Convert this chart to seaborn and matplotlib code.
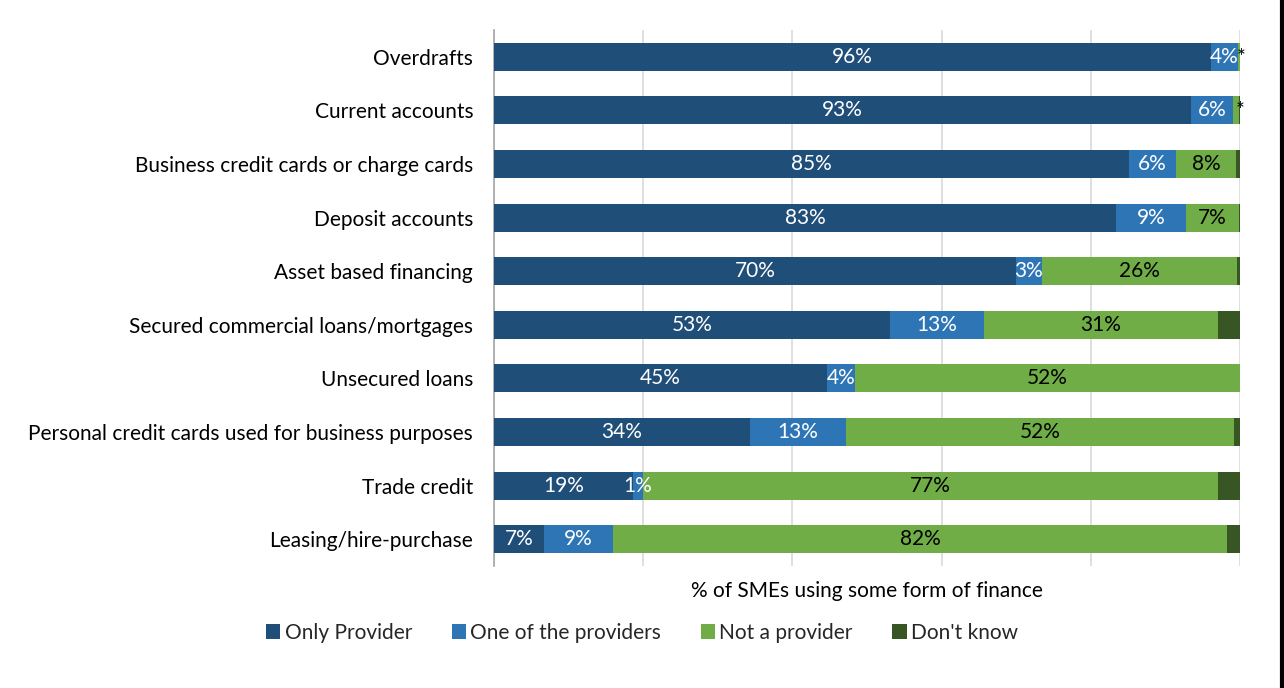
import numpy as np
import pandas as pd
import matplotlib
matplotlib.use("Agg")
import matplotlib.pyplot as plt
from matplotlib.lines import Line2D
from matplotlib.patches import Patch
import seaborn as sns

categories = ["Overdrafts", "Current accounts", "Business credit cards or charge cards",
              "Deposit accounts", "Asset based financing", "Secured commercial loans/mortgages",
              "Unsecured loans", "Personal credit cards used for business purposes",
              "Trade credit", "Leasing/hire-purchase"]
only_provider = [96.1, 93.4, 85.1, 83.4, 70.0, 53.1, 44.6, 34.3, 18.6, 6.7]
one_of_providers = [3.6, 5.7, 6.3, 9.3, 3.4, 12.6, 3.8, 12.9, 1.4, 9.3]
not_a_provider = [0.3, 0.7, 8.1, 7.2, 26.2, 31.3, 51.6, 52.0, 77.0, 82.3]
dont_know = [0.0, 0.2, 0.5, 0.1, 0.4, 3.0, 0.0, 0.8, 3.0, 1.7]

series_names = ["Only Provider", "One of the providers", "Not a provider", "Don't know"]
series = [only_provider, one_of_providers, not_a_provider, dont_know]
colors = ["#1F4E79", "#2E75B6", "#70AD47", "#375623"]
text_colors = ["white", "white", "black", None]

sns.set_theme(style="white")
plt.rcParams["font.family"] = ["Lato", "DejaVu Sans"]

FS = 15

fig = plt.figure(figsize=(12.84, 6.88), dpi=100)
ax = fig.add_axes([494 / 1284, 1 - 566 / 688, (1240 - 494) / 1284, (566 - 30) / 688])

vals = np.array(series)
cums = np.cumsum(vals, axis=0)

# draw stacked bars: largest cumulative first
for i in range(len(series) - 1, -1, -1):
    df = pd.DataFrame({"cat": categories, "val": cums[i]})
    sns.barplot(data=df, y="cat", x="val", orient="y", color=colors[i],
                saturation=1, width=0.52, linewidth=0, ax=ax, zorder=3)

ax.set_xlim(0, 100)
ax.set_ylim(9.5, -0.5)
ax.set_xticks([0, 20, 40, 60, 80, 100])
ax.set_xticklabels([])
ax.tick_params(axis="x", length=0)
ax.tick_params(axis="y", length=0, labelsize=FS, colors="black", pad=15)
ax.grid(axis="x", color="#D9D9D9", linewidth=1.2, zorder=0)
ax.set_axisbelow(True)
for s in ["top", "right", "bottom"]:
    ax.spines[s].set_visible(False)
ax.spines["left"].set_color("#A6A6A6")
ax.spines["left"].set_linewidth(1.2)
ax.set_ylabel("")
ax.set_xlabel("% of SMEs using some form of finance", fontsize=FS, color="black", labelpad=7)

# value labels
for i in range(3):
    for j, v in enumerate(series[i]):
        x = cums[i][j] - v / 2
        if v < 1:
            ax.text(cums[i][j] + 0.15, j + 0.02, "*", ha="center", va="center", fontsize=15,
                    color="black", zorder=5, clip_on=False)
        else:
            ax.text(x, j, f"{v:.0f}%", ha="center", va="center", fontsize=FS,
                    color=text_colors[i], zorder=5)

handles = [Patch(facecolor=c, edgecolor="none") for c in colors]
fig.legend(handles, series_names, loc="center", bbox_to_anchor=(0.5, 1 - 633 / 688),
           ncol=4, frameon=False, fontsize=FS, handlelength=0.7, handleheight=0.7,
           handletextpad=0.2, columnspacing=1.9)

fig.add_artist(Line2D([1281.5 / 1284, 1281.5 / 1284], [0, 1], color="black", linewidth=3,
                      transform=fig.transFigure))

fig.savefig("out.png", dpi=100, facecolor="white")
